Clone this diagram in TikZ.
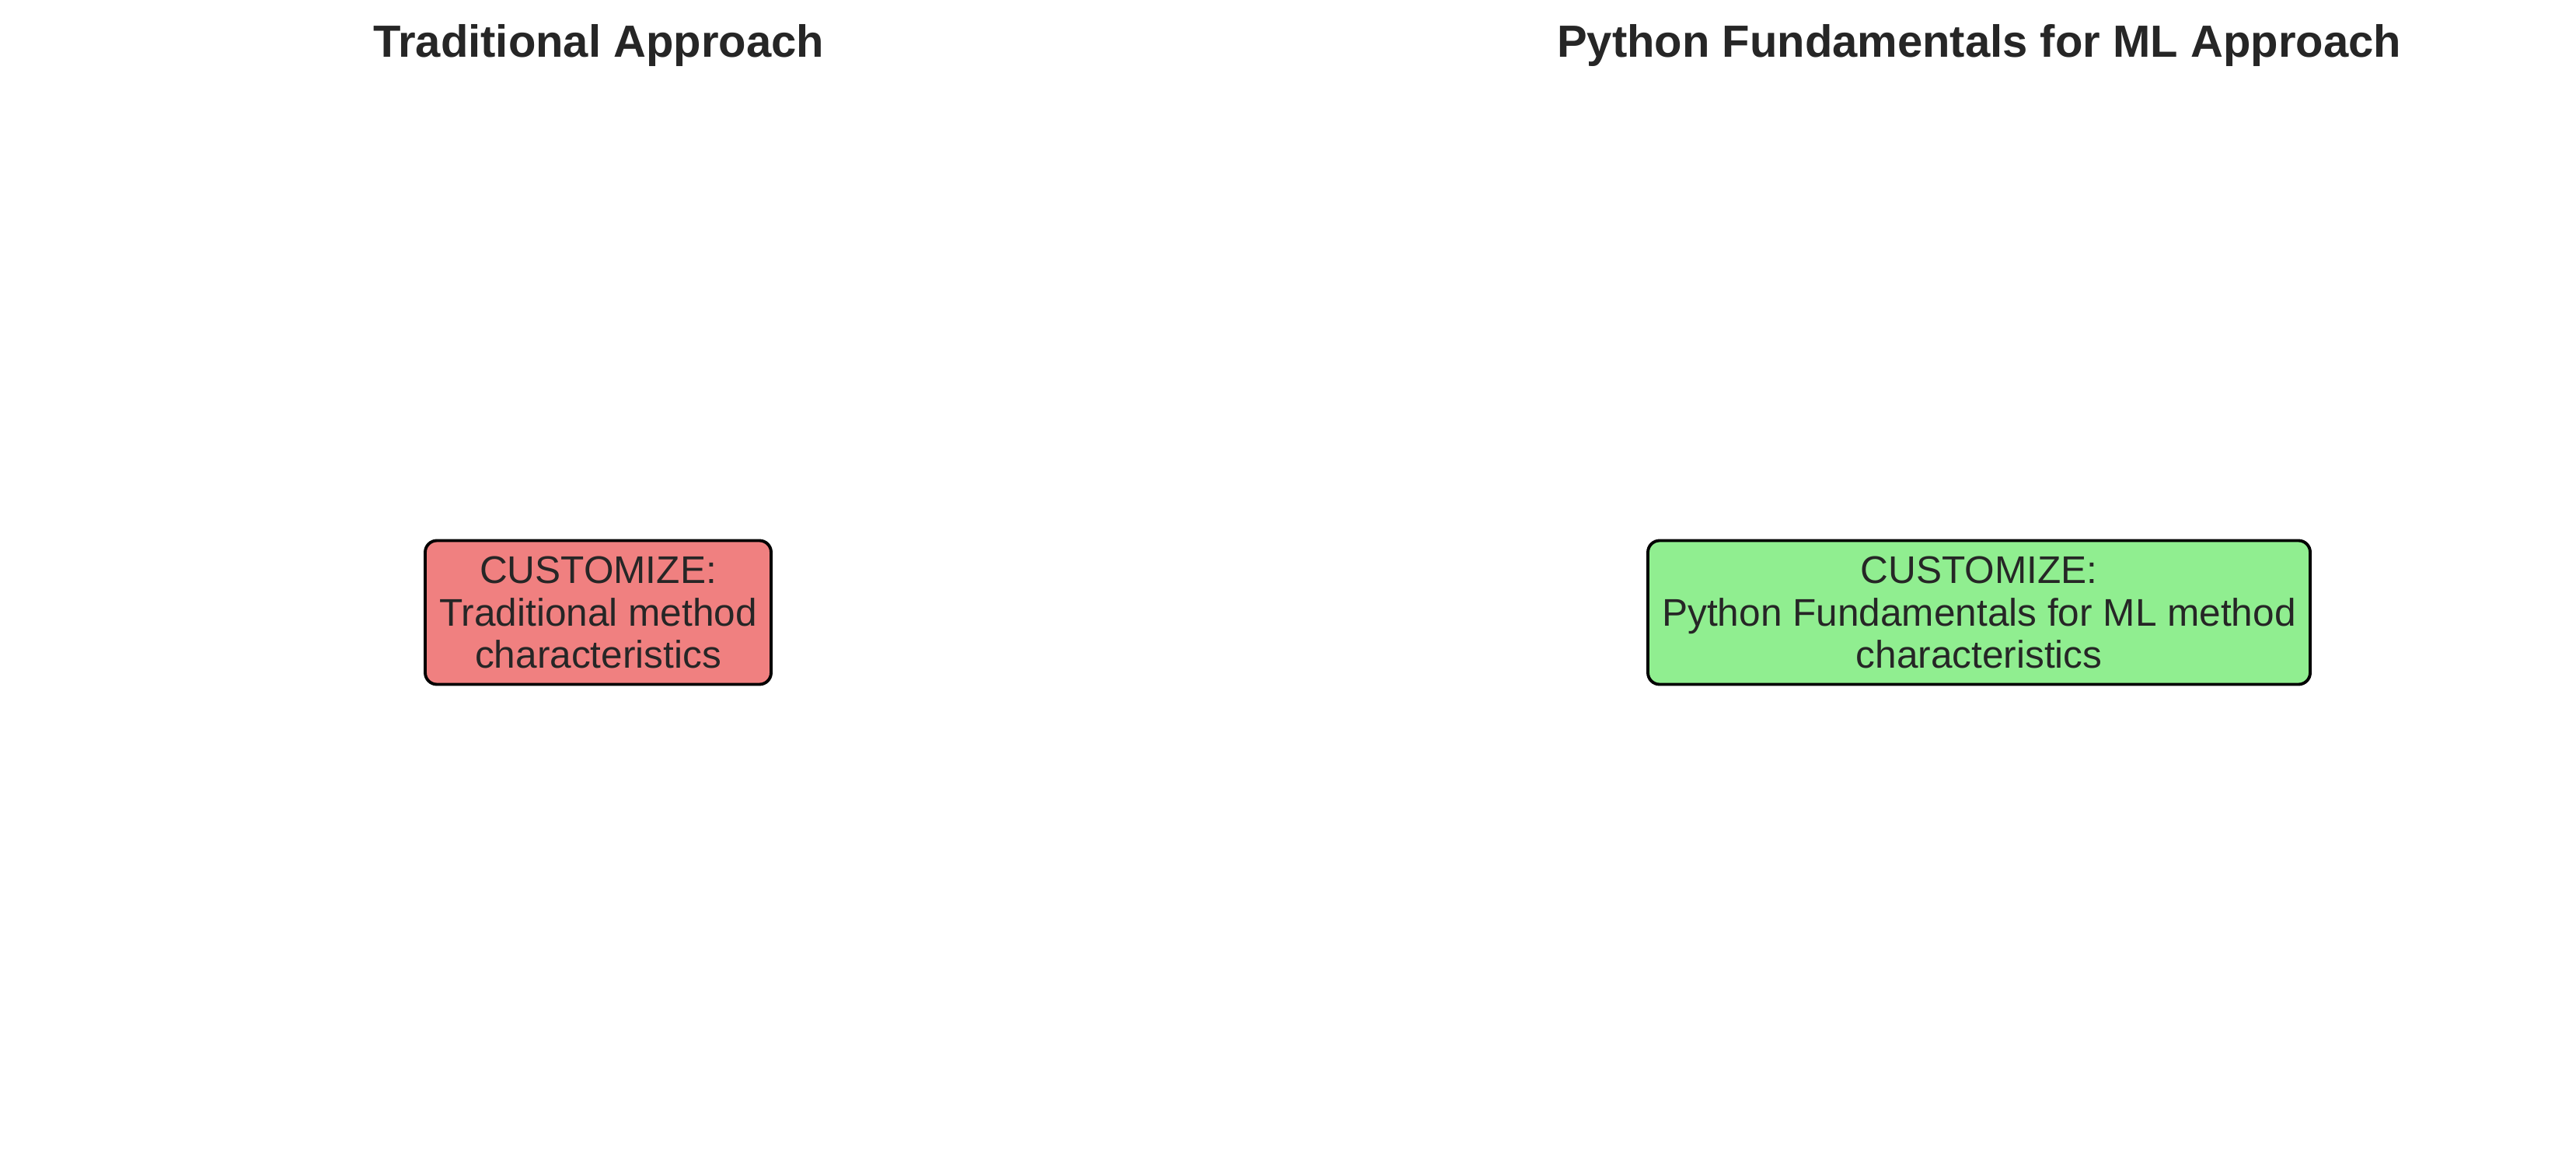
\documentclass[tikz,border=0pt]{standalone}
\usepackage{fontspec}
\setmainfont{Liberation Sans}
\definecolor{txt}{HTML}{262626}
\definecolor{redfill}{HTML}{F08080}
\definecolor{greenfill}{HTML}{90EE90}
\begin{document}
\begin{tikzpicture}[x=1cm,y=1cm,
  titlestyle/.style={font=\fontsize{16.5}{20}\selectfont\bfseries, text=txt, anchor=base, inner sep=0pt},
  boxstyle/.style={draw=black, line width=1.1pt, rounded corners=0.15cm, align=center,
    font=\fontsize{14.1}{15.5}\selectfont, text=txt, minimum height=1.85cm, inner xsep=0.1cm}]
\useasboundingbox[fill=white] (0,0) rectangle (33.14,-15.13);
\node[titlestyle] (t1) at (7.70,-0.74) {Traditional Approach};
\node[titlestyle] (t2) at (25.46,-0.74) {Python Fundamentals for ML Approach};
\node[boxstyle, fill=redfill, minimum width=4.45cm] (b1) at (7.695,-7.88)
  {CUSTOMIZE:\\Traditional method\\characteristics};
\node[boxstyle, fill=greenfill, minimum width=8.52cm] (b2) at (25.46,-7.88)
  {CUSTOMIZE:\\Python Fundamentals for ML method\\characteristics};
\end{tikzpicture}
\end{document}
